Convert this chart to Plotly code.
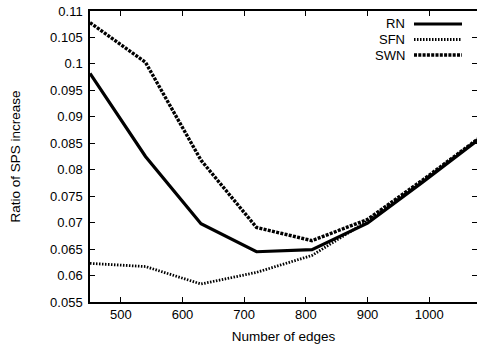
import plotly.graph_objects as go

edges = [450, 540, 630, 720, 810, 900, 990, 1080]
rn = [0.0982, 0.0825, 0.0698, 0.0645, 0.0649, 0.0699, 0.0777, 0.0857]
sfn = [0.0623, 0.0617, 0.0584, 0.0606, 0.0638, 0.0703, 0.0779, 0.0858]
swn = [0.1078, 0.1003, 0.0818, 0.0691, 0.0666, 0.0706, 0.0781, 0.0859]
series_names = ["RN", "SFN", "SWN"]
y_ticks = [0.055, 0.06, 0.065, 0.07, 0.075, 0.08, 0.085, 0.09, 0.095, 0.1, 0.105, 0.11]
x_ticks = [500, 600, 700, 800, 900, 1000]

styles = [
    dict(color="black", width=3.2, dash="solid"),
    dict(color="black", width=2.8, dash="1.5px,1.5px"),
    dict(color="black", width=3.4, dash="3px,1.3px"),
]

FONT = "Liberation Sans, Arial, Helvetica, sans-serif"
fig = go.Figure()
for name, ys, st in zip(series_names, [rn, sfn, swn], styles):
    fig.add_trace(go.Scatter(x=edges, y=ys, mode="lines", name=name,
                             line=st, showlegend=False, cliponaxis=True,
                             hoverinfo="skip"))

# gnuplot-style legend: text on left, sample on right
L, W = 90, 387
plot_top, plot_bot = 11, 302
row_y = [24, 39.5, 55]
for name, st, ry in zip(series_names, styles, row_y):
    yp = 1 - (ry - plot_top) / (plot_bot - plot_top)
    fig.add_annotation(x=(407 - L) / W, y=yp, xref="paper", yref="paper",
                       text=name, showarrow=False, xanchor="right", yanchor="middle",
                       font=dict(size=13, color="black", family=FONT))
    fig.add_shape(type="line", xref="paper", yref="paper",
                  x0=(414 - L) / W, x1=(462 - L) / W, y0=yp, y1=yp,
                  line=st)

fig.update_layout(
    width=477, height=347,
    margin=dict(l=90, r=0, t=11, b=45),
    paper_bgcolor="white", plot_bgcolor="white",
    font=dict(family=FONT, size=13, color="black"),
    showlegend=False,
)
fig.update_xaxes(
    range=[450, 1077.6], tickvals=x_ticks, ticktext=[str(v) for v in x_ticks],
    ticks="inside", ticklen=5, tickcolor="black", tickwidth=1,
    showline=True, linecolor="black", linewidth=1.5, mirror="ticks",
    showgrid=False, zeroline=False,
    title=dict(text="Number of edges", standoff=10, font=dict(size=13.5)),
    automargin=False,
)
fig.update_yaxes(
    range=[0.055, 0.11], tickvals=y_ticks, ticktext=[("%g" % v) for v in y_ticks],
    ticks="inside", ticklen=5, tickcolor="black", tickwidth=1,
    showline=True, linecolor="black", linewidth=1.5, mirror="ticks",
    showgrid=False, zeroline=False,
    title=dict(text="Ratio of SPS increase", standoff=26, font=dict(size=13.5)),
    automargin=False, ticklabelstandoff=3,
)
fig.write_html("out.html", config={"displayModeBar": False},
               post_script="document.body.style.margin='0';document.body.style.overflow='hidden';")
